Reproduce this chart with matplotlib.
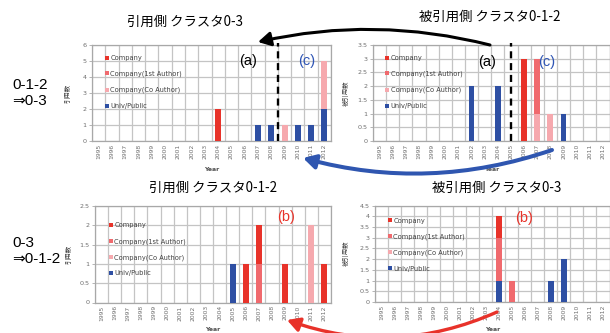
import matplotlib
matplotlib.use("Agg")
import matplotlib.pyplot as plt
from matplotlib.patches import FancyArrowPatch
from matplotlib.ticker import FuncFormatter, MultipleLocator, FixedLocator
import numpy as np

# ---- data -------------------------------------------------------------
years = [1995, 1996, 1997, 1998, 1999, 2000, 2001, 2002, 2003,
         2004, 2005, 2006, 2007, 2008, 2009, 2010, 2011, 2012]
series_names = ["Company", "Company(1st Author)", "Company(Co Author)", "Univ/Public"]

# 引用側 クラスタ0-3
a_company = [0, 0, 0, 0, 0, 0, 0, 0, 0, 2, 0, 0, 0, 0, 0, 0, 0, 0]
a_first   = [0, 0, 0, 0, 0, 0, 0, 0, 0, 0, 0, 0, 0, 0, 0, 0, 0, 0]
a_co      = [0, 0, 0, 0, 0, 0, 0, 0, 0, 0, 0, 0, 0, 0, 1, 0, 0, 3]
a_univ    = [0, 0, 0, 0, 0, 0, 0, 0, 0, 0, 0, 0, 1, 1, 0, 1, 1, 2]

# 被引用側 クラスタ0-1-2
b_company = [0, 0, 0, 0, 0, 0, 0, 0, 0, 0, 0, 3, 0, 0, 0, 0, 0, 0]
b_first   = [0, 0, 0, 0, 0, 0, 0, 0, 0, 0, 0, 0, 2, 0, 0, 0, 0, 0]
b_co      = [0, 0, 0, 0, 0, 0, 0, 0, 0, 0, 0, 0, 1, 1, 0, 0, 0, 0]
b_univ    = [0, 0, 0, 0, 0, 0, 0, 2, 0, 2, 0, 0, 0, 0, 1, 0, 0, 0]

# 引用側 クラスタ0-1-2
c_company = [0, 0, 0, 0, 0, 0, 0, 0, 0, 0, 0, 1, 1, 0, 1, 0, 0, 1]
c_first   = [0, 0, 0, 0, 0, 0, 0, 0, 0, 0, 0, 0, 1, 0, 0, 0, 0, 0]
c_co      = [0, 0, 0, 0, 0, 0, 0, 0, 0, 0, 0, 0, 0, 0, 0, 0, 2, 0]
c_univ    = [0, 0, 0, 0, 0, 0, 0, 0, 0, 0, 1, 0, 0, 0, 0, 0, 0, 0]

# 被引用側 クラスタ0-3
d_company = [0, 0, 0, 0, 0, 0, 0, 0, 0, 1, 0, 0, 0, 0, 0, 0, 0, 0]
d_first   = [0, 0, 0, 0, 0, 0, 0, 0, 0, 2, 1, 0, 0, 0, 0, 0, 0, 0]
d_co      = [0, 0, 0, 0, 0, 0, 0, 0, 0, 0, 0, 0, 0, 0, 0, 0, 0, 0]
d_univ    = [0, 0, 0, 0, 0, 0, 0, 0, 0, 1, 0, 0, 0, 1, 2, 0, 0, 0]

# ---- styling ----------------------------------------------------------
W, H = 610, 333
CJK = ["Noto Sans CJK JP", "DejaVu Sans"]
LAT = ["Liberation Sans", "DejaVu Sans"]
C_COMPANY = "#E8332A"
C_FIRST = "#F06A6E"
C_CO = "#F6A9AE"
C_UNIV = "#2E4FA3"
GRID = "#C4C4C4"
FRAME = "#A8A8A8"
TICK_TXT = "#6E6E6E"


def fx(px):
    return px / W


def fy(py):
    return 1 - py / H


def axes_rect(left, top, right, bottom):
    return [fx(left), fy(bottom), (right - left) / W, (bottom - top) / H]


def fmt_num(v, _pos):
    return f"{v:g}"


fig = plt.figure(figsize=(W / 100, H / 100), dpi=100)
fig.patch.set_facecolor("white")


def panel(rect, company, first, co, univ, ymax, ystep, ylabel,
          legend_anchor, ylabel_x, xlabel_y):
    ax = fig.add_axes(rect)
    x = np.arange(len(years))
    univ = np.array(univ, float)
    co = np.array(co, float)
    first = np.array(first, float)
    company = np.array(company, float)
    w = 0.45
    h_univ = ax.bar(x, univ, w, color=C_UNIV, zorder=3)
    h_co = ax.bar(x, co, w, bottom=univ, color=C_CO, zorder=3)
    h_first = ax.bar(x, first, w, bottom=univ + co, color=C_FIRST, zorder=3)
    h_comp = ax.bar(x, company, w, bottom=univ + co + first, color=C_COMPANY, zorder=3)

    ax.set_xlim(-0.5, len(years) - 0.5)
    ax.set_ylim(0, ymax)
    ax.set_xticks(x)
    ax.set_xticklabels([str(y) for y in years], rotation=90,
                       fontsize=4.3, color=TICK_TXT)
    ax.xaxis.set_minor_locator(FixedLocator(np.arange(-0.5, len(years), 1.0)))
    ax.tick_params(axis="x", which="both", length=0, pad=2)
    ax.yaxis.set_major_locator(MultipleLocator(ystep))
    ax.yaxis.set_major_formatter(FuncFormatter(fmt_num))
    ax.tick_params(axis="y", labelsize=4.6, labelcolor=TICK_TXT,
                   length=2, width=0.6, color=FRAME, pad=2)
    ax.grid(True, which="minor", axis="x", color=GRID, lw=0.9, zorder=0)
    ax.grid(True, which="major", axis="y", color=GRID, lw=0.9, zorder=0)
    ax.set_axisbelow(True)
    for s in ax.spines.values():
        s.set_color(FRAME)
        s.set_linewidth(0.9)

    ax.set_ylabel(ylabel, fontsize=4.6, family=CJK, color="#404040")
    ax.yaxis.set_label_coords(ylabel_x, 0.5)
    ax.set_xlabel("Year", fontsize=4.4, fontweight="bold", color="#505050")
    ax.xaxis.set_label_coords(0.5, xlabel_y)

    leg = ax.legend([h_comp, h_first, h_co, h_univ], series_names,
                    loc="upper left", bbox_to_anchor=legend_anchor,
                    frameon=False, fontsize=4.8, handlelength=0.55,
                    handleheight=0.55, handletextpad=0.25,
                    labelspacing=1.45, borderpad=0, borderaxespad=0)
    for t in leg.get_texts():
        t.set_color("#404040")
    return ax


ax_a = panel(axes_rect(92, 45, 331, 141), a_company, a_first, a_co, a_univ,
             6, 1, "引用数", (0.055, 0.895), -0.085, -0.27)
ax_b = panel(axes_rect(373, 45, 609.5, 141), b_company, b_first, b_co, b_univ,
             3.5, 0.5, "被引用数", (0.052, 0.895), -0.10, -0.27)
ax_c = panel(axes_rect(95, 206, 331, 302.5), c_company, c_first, c_co, c_univ,
             2.5, 0.5, "引用数", (0.060, 0.83), -0.097, -0.255)
ax_d = panel(axes_rect(375, 205.5, 609.5, 302), d_company, d_first, d_co, d_univ,
             4.5, 0.5, "被引用数", (0.056, 0.875), -0.107, -0.255)

# period boundaries
for ax, xpos in ((ax_a, 13.5), (ax_b, 10)):
    ax.axvline(xpos, ymin=0, ymax=1.025, clip_on=False, color="black",
               lw=1.7, ls=(0, (3, 2)), zorder=5)

# cluster titles
fig.text(fx(185), fy(22), "引用側 クラスタ0-3", family=CJK, fontsize=9.6,
         ha="center", va="center")
fig.text(fx(490), fy(17), "被引用側 クラスタ0-1-2", family=CJK, fontsize=9.6,
         ha="center", va="center")
fig.text(fx(213), fy(188), "引用側 クラスタ0-1-2", family=CJK, fontsize=9.6,
         ha="center", va="center")
fig.text(fx(497), fy(188), "被引用側 クラスタ0-3", family=CJK, fontsize=9.6,
         ha="center", va="center")

# direction labels
fig.text(fx(12), fy(93), "0-1-2\n⇒0-3", family=LAT, fontsize=11,
         ha="left", va="center", linespacing=1.15)
fig.text(fx(12), fy(251), "0-3\n⇒0-1-2", family=LAT, fontsize=11,
         ha="left", va="center", linespacing=1.15)

# period markers
BLUE_TXT = "#2F55B5"
RED_TXT = "#E8332A"
for (px, py, s, c) in ((248, 61, "(a)", "black"), (307, 61, "(c)", BLUE_TXT),
                       (487, 62, "(a)", "black"), (547, 62, "(c)", BLUE_TXT),
                       (286, 217, "(b)", RED_TXT), (524, 218, "(b)", RED_TXT)):
    fig.text(fx(px), fy(py), s, family=LAT, fontsize=10.5, color=c,
             ha="center", va="center", zorder=6)


def curved_arrow(p0, p1, rad, color, lw):
    arr = FancyArrowPatch((fx(p0[0]), fy(p0[1])), (fx(p1[0]), fy(p1[1])),
                          transform=fig.transFigure,
                          connectionstyle=f"arc3,rad={rad}",
                          arrowstyle="-|>,head_length=0.75,head_width=0.42",
                          mutation_scale=10, color=color, lw=lw,
                          shrinkA=0, shrinkB=0, zorder=10)
    fig.add_artist(arr)


curved_arrow((490, 45), (258, 42), 0.12, "black", 2.2)
curved_arrow((552, 150), (303, 158), -0.153, "#2F56B0", 2.9)
curved_arrow((497, 312), (287, 320), -0.2, "#E8322A", 2.4)

fig.savefig("out.png", dpi=100)
